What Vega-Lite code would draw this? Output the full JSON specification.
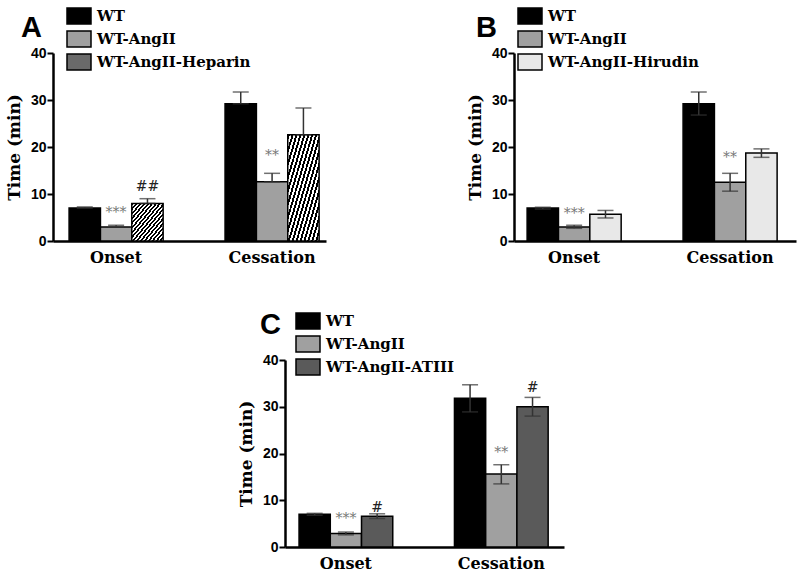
{
  "$schema": "https://vega.github.io/schema/vega-lite/v6.json",
  "autosize": {"type": "pad"},
  "padding": {"left": 5, "top": 7, "right": 5, "bottom": 5},
  "background": "white",
  "config": {
    "view": {"stroke": null},
    "axis": {"grid": false, "domainColor": "black", "tickColor": "black", "labelColor": "black", "titleColor": "black"},
    "axisY": {"domainWidth": 2.5, "tickWidth": 2, "tickSize": 6, "labelPadding": 1, "labelFont": "Liberation Sans", "labelFontWeight": "bold", "labelFontSize": 14, "titleFont": "DejaVu Serif", "titleFontWeight": "bold", "titleFontSize": 17, "titlePadding": 7, "values": [0, 10, 20, 30, 40]},
    "axisX": {"domainWidth": 2.5, "ticks": false, "labelPadding": 8, "labelFont": "DejaVu Serif", "labelFontWeight": "bold", "labelFontSize": 16, "labelAngle": 0, "labelBaseline": "top", "title": null},
    "legend": {"orient": "none", "title": null, "symbolType": "M-1.5,-1H1.5V1H-1.5Z", "symbolSize": 256, "symbolStrokeColor": "black", "symbolStrokeWidth": 1.5, "symbolOpacity": 1, "labelFont": "DejaVu Serif", "labelFontWeight": "bold", "labelFontSize": 15, "labelColor": "black", "rowPadding": 1, "labelOffset": 9, "padding": 0},
    "title": {"anchor": "start", "frame": "group", "font": "Liberation Sans", "fontWeight": "bold", "fontSize": 29, "color": "black", "baseline": "alphabetic"}
  },
  "datasets": {
    "bars": [
      {"panel": "A", "time": "Onset", "series": "WT", "mean": 7.0, "lo": 7.0, "hi": 7.25},
      {"panel": "A", "time": "Onset", "series": "WT-AngII", "mean": 3.0, "lo": 3.0, "hi": 3.35},
      {"panel": "A", "time": "Onset", "series": "WT-AngII-Heparin", "mean": 8.0, "lo": 8.0, "hi": 9.0},
      {"panel": "A", "time": "Cessation", "series": "WT", "mean": 29.2, "lo": 29.2, "hi": 31.7},
      {"panel": "A", "time": "Cessation", "series": "WT-AngII", "mean": 12.6, "lo": 12.6, "hi": 14.4},
      {"panel": "A", "time": "Cessation", "series": "WT-AngII-Heparin", "mean": 22.6, "lo": 22.6, "hi": 28.3},
      {"panel": "B", "time": "Onset", "series": "WT", "mean": 7.0, "lo": 6.8, "hi": 7.2},
      {"panel": "B", "time": "Onset", "series": "WT-AngII", "mean": 3.0, "lo": 2.7, "hi": 3.35},
      {"panel": "B", "time": "Onset", "series": "WT-AngII-Hirudin", "mean": 5.7, "lo": 4.9, "hi": 6.5},
      {"panel": "B", "time": "Cessation", "series": "WT", "mean": 29.2, "lo": 26.8, "hi": 31.7},
      {"panel": "B", "time": "Cessation", "series": "WT-AngII", "mean": 12.5, "lo": 10.6, "hi": 14.4},
      {"panel": "B", "time": "Cessation", "series": "WT-AngII-Hirudin", "mean": 18.7, "lo": 17.8, "hi": 19.6},
      {"panel": "C", "time": "Onset", "series": "WT", "mean": 7.0, "lo": 6.8, "hi": 7.2},
      {"panel": "C", "time": "Onset", "series": "WT-AngII", "mean": 2.9, "lo": 2.6, "hi": 3.2},
      {"panel": "C", "time": "Onset", "series": "WT-AngII-ATIII", "mean": 6.6, "lo": 6.1, "hi": 7.1},
      {"panel": "C", "time": "Cessation", "series": "WT", "mean": 31.8, "lo": 28.9, "hi": 34.7},
      {"panel": "C", "time": "Cessation", "series": "WT-AngII", "mean": 15.6, "lo": 13.5, "hi": 17.6},
      {"panel": "C", "time": "Cessation", "series": "WT-AngII-ATIII", "mean": 30.0, "lo": 28.0, "hi": 32.0}
    ],
    "notes": [
      {"panel": "A", "time": "Onset", "series": "WT-AngII", "label": "***", "pos": 6.0, "kind": "star"},
      {"panel": "A", "time": "Onset", "series": "WT-AngII-Heparin", "label": "##", "pos": 11.5, "kind": "hash"},
      {"panel": "A", "time": "Cessation", "series": "WT-AngII", "label": "**", "pos": 18.1, "kind": "star"},
      {"panel": "B", "time": "Onset", "series": "WT-AngII", "label": "***", "pos": 5.7, "kind": "star"},
      {"panel": "B", "time": "Cessation", "series": "WT-AngII", "label": "**", "pos": 17.6, "kind": "star"},
      {"panel": "C", "time": "Onset", "series": "WT-AngII", "label": "***", "pos": 5.9, "kind": "star"},
      {"panel": "C", "time": "Onset", "series": "WT-AngII-ATIII", "label": "#", "pos": 8.4, "kind": "hash"},
      {"panel": "C", "time": "Cessation", "series": "WT-AngII", "label": "**", "pos": 20.2, "kind": "star"},
      {"panel": "C", "time": "Cessation", "series": "WT-AngII-ATIII", "label": "#", "pos": 34.1, "kind": "hash"}
    ]
  },
  "vconcat": [
    {
      "hconcat": [
        {
          "width": 273, "height": 188,
          "title": {"text": "A", "dx": -32, "dy": 40},
          "data": {"name": "bars"},
          "transform": [{"filter": "datum.panel === 'A'"}],
          "encoding": {
            "x": {"field": "time", "type": "nominal", "sort": ["Onset", "Cessation"], "scale": {"paddingInner": 0.397, "paddingOuter": 0.0737, "align": 0.7}, "axis": {}},
            "xOffset": {"field": "series", "type": "nominal", "scale": {"domain": ["WT", "WT-AngII", "WT-AngII-Heparin"], "paddingInner": 0, "paddingOuter": 0}}
          },
          "layer": [
            {"transform": [{"filter": "datum.series !== 'WT-AngII-Heparin'"}],
             "mark": {"type": "bar", "stroke": "black", "strokeWidth": 1.5},
             "encoding": {
               "y": {"field": "mean", "type": "quantitative", "scale": {"domain": [0, 40]}, "axis": {"title": "Time (min)"}},
               "color": {"field": "series", "type": "nominal", "scale": {"domain": ["WT", "WT-AngII", "WT-AngII-Heparin"], "range": ["#000000", "#a0a0a0", "#6a6a6a"]}, "legend": {"legendX": 17, "legendY": -46}}
             }},
            {"transform": [{"filter": "datum.series === 'WT-AngII-Heparin'"}],
             "mark": {"type": "bar", "stroke": "black", "strokeWidth": 1.5,
               "fill": {"gradient": "linear", "x1": 0, "y1": 0, "x2": 1, "y2": 1, "stops": [
                   {"offset": 0, "color": "#000"}, {"offset": 0.03125, "color": "#000"}, {"offset": 0.03125, "color": "#fff"}, {"offset": 0.0625, "color": "#fff"},
                   {"offset": 0.0625, "color": "#000"}, {"offset": 0.09375, "color": "#000"}, {"offset": 0.09375, "color": "#fff"}, {"offset": 0.125, "color": "#fff"},
                   {"offset": 0.125, "color": "#000"}, {"offset": 0.15625, "color": "#000"}, {"offset": 0.15625, "color": "#fff"}, {"offset": 0.1875, "color": "#fff"},
                   {"offset": 0.1875, "color": "#000"}, {"offset": 0.21875, "color": "#000"}, {"offset": 0.21875, "color": "#fff"}, {"offset": 0.25, "color": "#fff"},
                   {"offset": 0.25, "color": "#000"}, {"offset": 0.28125, "color": "#000"}, {"offset": 0.28125, "color": "#fff"}, {"offset": 0.3125, "color": "#fff"},
                   {"offset": 0.3125, "color": "#000"}, {"offset": 0.34375, "color": "#000"}, {"offset": 0.34375, "color": "#fff"}, {"offset": 0.375, "color": "#fff"},
                   {"offset": 0.375, "color": "#000"}, {"offset": 0.40625, "color": "#000"}, {"offset": 0.40625, "color": "#fff"}, {"offset": 0.4375, "color": "#fff"},
                   {"offset": 0.4375, "color": "#000"}, {"offset": 0.46875, "color": "#000"}, {"offset": 0.46875, "color": "#fff"}, {"offset": 0.5, "color": "#fff"},
                   {"offset": 0.5, "color": "#000"}, {"offset": 0.53125, "color": "#000"}, {"offset": 0.53125, "color": "#fff"}, {"offset": 0.5625, "color": "#fff"},
                   {"offset": 0.5625, "color": "#000"}, {"offset": 0.59375, "color": "#000"}, {"offset": 0.59375, "color": "#fff"}, {"offset": 0.625, "color": "#fff"},
                   {"offset": 0.625, "color": "#000"}, {"offset": 0.65625, "color": "#000"}, {"offset": 0.65625, "color": "#fff"}, {"offset": 0.6875, "color": "#fff"},
                   {"offset": 0.6875, "color": "#000"}, {"offset": 0.71875, "color": "#000"}, {"offset": 0.71875, "color": "#fff"}, {"offset": 0.75, "color": "#fff"},
                   {"offset": 0.75, "color": "#000"}, {"offset": 0.78125, "color": "#000"}, {"offset": 0.78125, "color": "#fff"}, {"offset": 0.8125, "color": "#fff"},
                   {"offset": 0.8125, "color": "#000"}, {"offset": 0.84375, "color": "#000"}, {"offset": 0.84375, "color": "#fff"}, {"offset": 0.875, "color": "#fff"},
                   {"offset": 0.875, "color": "#000"}, {"offset": 0.90625, "color": "#000"}, {"offset": 0.90625, "color": "#fff"}, {"offset": 0.9375, "color": "#fff"},
                   {"offset": 0.9375, "color": "#000"}, {"offset": 0.96875, "color": "#000"}, {"offset": 0.96875, "color": "#fff"}, {"offset": 1, "color": "#fff"}
               ]}},
             "encoding": {"y": {"field": "mean", "type": "quantitative"}}},
            {"mark": {"type": "rule", "color": "#333", "strokeWidth": 1.5}, "encoding": {"y": {"field": "lo", "type": "quantitative"}, "y2": {"field": "hi"}}},
            {"mark": {"type": "tick", "color": "#333", "size": 16, "thickness": 1.5}, "encoding": {"y": {"field": "hi", "type": "quantitative"}}},
            {"mark": {"type": "tick", "color": "#333", "size": 16, "thickness": 1.5}, "encoding": {"y": {"field": "lo", "type": "quantitative"}}},
            {"data": {"name": "notes"}, "transform": [{"filter": "datum.panel === 'A' && datum.kind === 'star'"}],
             "mark": {"type": "text", "font": "DejaVu Serif", "fontSize": 14, "baseline": "middle", "fill": "#777"},
             "encoding": {"y": {"field": "pos", "type": "quantitative"}, "text": {"field": "label"}}},
            {"data": {"name": "notes"}, "transform": [{"filter": "datum.panel === 'A' && datum.kind === 'hash'"}],
             "mark": {"type": "text", "font": "DejaVu Serif", "fontSize": 14, "baseline": "middle", "fill": "#222"},
             "encoding": {"y": {"field": "pos", "type": "quantitative"}, "text": {"field": "label"}}}
          ]
        },
        {
          "width": 282, "height": 188,
          "title": {"text": "B", "dx": -38, "dy": 40},
          "data": {"name": "bars"},
          "transform": [{"filter": "datum.panel === 'B'"}],
          "encoding": {
            "x": {"field": "time", "type": "nominal", "sort": ["Onset", "Cessation"], "scale": {"paddingInner": 0.397, "paddingOuter": 0.1026, "align": 0.41}, "axis": {}},
            "xOffset": {"field": "series", "type": "nominal", "scale": {"domain": ["WT", "WT-AngII", "WT-AngII-Hirudin"], "paddingInner": 0, "paddingOuter": 0}}
          },
          "layer": [
            {"mark": {"type": "bar", "stroke": "black", "strokeWidth": 1.5},
             "encoding": {
               "y": {"field": "mean", "type": "quantitative", "scale": {"domain": [0, 40]}, "axis": {"title": "Time (min)"}},
               "color": {"field": "series", "type": "nominal", "scale": {"domain": ["WT", "WT-AngII", "WT-AngII-Hirudin"], "range": ["#000000", "#a0a0a0", "#e8e8e8"]}, "legend": {"legendX": 7, "legendY": -46}}
             }},
            {"mark": {"type": "rule", "color": "#333", "strokeWidth": 1.5}, "encoding": {"y": {"field": "lo", "type": "quantitative"}, "y2": {"field": "hi"}}},
            {"mark": {"type": "tick", "color": "#333", "size": 16, "thickness": 1.5}, "encoding": {"y": {"field": "hi", "type": "quantitative"}}},
            {"mark": {"type": "tick", "color": "#333", "size": 16, "thickness": 1.5}, "encoding": {"y": {"field": "lo", "type": "quantitative"}}},
            {"data": {"name": "notes"}, "transform": [{"filter": "datum.panel === 'B'"}],
             "mark": {"type": "text", "font": "DejaVu Serif", "fontSize": 14, "baseline": "middle", "fill": "#777"},
             "encoding": {"y": {"field": "pos", "type": "quantitative"}, "text": {"field": "label"}}}
          ]
        }
      ],
      "spacing": 188,
      "bounds": "flush",
      "resolve": {"scale": {"color": "independent", "xOffset": "independent"}, "legend": {"color": "independent"}}
    },
    {
      "width": 279, "height": 187,
      "title": {"text": "C", "dx": -25, "dy": 32},
      "data": {"name": "bars"},
      "transform": [{"filter": "datum.panel === 'C'"}],
      "encoding": {
        "x": {"field": "time", "type": "nominal", "sort": ["Onset", "Cessation"], "scale": {"paddingInner": 0.397, "paddingOuter": 0.0962, "align": 0.47}, "axis": {}},
        "xOffset": {"field": "series", "type": "nominal", "scale": {"domain": ["WT", "WT-AngII", "WT-AngII-ATIII"], "paddingInner": 0, "paddingOuter": 0}}
      },
      "layer": [
        {"mark": {"type": "bar", "stroke": "black", "strokeWidth": 1.5},
         "encoding": {
           "y": {"field": "mean", "type": "quantitative", "scale": {"domain": [0, 40]}, "axis": {"title": "Time (min)"}},
           "color": {"field": "series", "type": "nominal", "scale": {"domain": ["WT", "WT-AngII", "WT-AngII-ATIII"], "range": ["#000000", "#a0a0a0", "#5a5a5a"]}, "legend": {"legendX": 14, "legendY": -48}}
         }},
        {"mark": {"type": "rule", "color": "#333", "strokeWidth": 1.5}, "encoding": {"y": {"field": "lo", "type": "quantitative"}, "y2": {"field": "hi"}}},
        {"mark": {"type": "tick", "color": "#333", "size": 16, "thickness": 1.5}, "encoding": {"y": {"field": "hi", "type": "quantitative"}}},
        {"mark": {"type": "tick", "color": "#333", "size": 16, "thickness": 1.5}, "encoding": {"y": {"field": "lo", "type": "quantitative"}}},
        {"data": {"name": "notes"}, "transform": [{"filter": "datum.panel === 'C' && datum.kind === 'star'"}],
         "mark": {"type": "text", "font": "DejaVu Serif", "fontSize": 14, "baseline": "middle", "fill": "#777"},
         "encoding": {"y": {"field": "pos", "type": "quantitative"}, "text": {"field": "label"}}},
        {"data": {"name": "notes"}, "transform": [{"filter": "datum.panel === 'C' && datum.kind === 'hash'"}],
         "mark": {"type": "text", "font": "DejaVu Serif", "fontSize": 14, "baseline": "middle", "fill": "#222"},
         "encoding": {"y": {"field": "pos", "type": "quantitative"}, "text": {"field": "label"}}}
      ]
    }
  ],
  "spacing": 46,
  "bounds": "full",
  "center": true,
  "resolve": {"scale": {"color": "independent", "xOffset": "independent"}, "legend": {"color": "independent"}}
}
